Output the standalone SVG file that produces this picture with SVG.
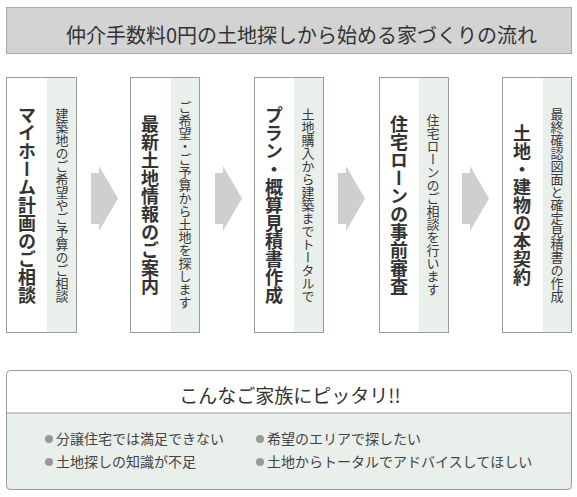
<svg xmlns="http://www.w3.org/2000/svg" width="577" height="497" viewBox="0 0 577 497">
<style>
text{font-family:"Noto Sans CJK JP","Noto Sans CJK SC",sans-serif;fill:#333}
.box{fill:#fff;stroke:#9a9a9a;stroke-width:1}
.strip{fill:#e9efeb}
.main{font-size:18px;font-weight:bold;writing-mode:vertical-rl;text-anchor:middle}
.sub{font-size:13px;writing-mode:vertical-rl;text-anchor:middle;fill:#3a3a3a}
.arrow{fill:#cfcfcf}
.item{font-size:14px;fill:#444}
.dot{fill:#999}
</style>
<rect width="577" height="497" fill="#fff"/>
<g id="title">
<rect x="6.5" y="7.5" width="565" height="46" fill="#d3d3d3" stroke="#a8a8a8"/>
<text x="66" y="43" font-size="20" fill="#333">仲介手数料0円の土地探しから始める家づくりの流れ</text>
</g>
<g id="step1">
<rect class="box" x="6.5" y="77.5" width="70" height="255"/>
<rect class="strip" x="47" y="78" width="29" height="254"/>
<text class="main" x="27" y="205">マイホーム計画のご相談</text>
<text class="sub" x="62" y="205">建築地のご希望やご予算のご相談</text>
</g>
<g id="step2">
<rect class="box" x="130.5" y="77.5" width="69" height="255"/>
<rect class="strip" x="171" y="78" width="28" height="254"/>
<text class="main" x="150" y="205">最新土地情報のご案内</text>
<text class="sub" x="185" y="205">ご希望・ご予算から土地を探します</text>
</g>
<g id="step3">
<rect class="box" x="254.5" y="77.5" width="69" height="255"/>
<rect class="strip" x="294" y="78" width="29" height="254"/>
<text class="main" x="274" y="205">プラン・概算見積書作成</text>
<text class="sub" x="308" y="205">土地購入から建築までトータルで</text>
</g>
<g id="step4">
<rect class="box" x="379.5" y="77.5" width="69" height="255"/>
<rect class="strip" x="419" y="78" width="29" height="254"/>
<text class="main" x="399" y="205">住宅ローンの事前審査</text>
<text class="sub" x="433" y="205">住宅ローンのご相談を行います</text>
</g>
<g id="step5">
<rect class="box" x="502.5" y="77.5" width="69" height="255"/>
<rect class="strip" x="543" y="78" width="28" height="254"/>
<text class="main" x="522" y="205">土地・建物の本契約</text>
<text class="sub" x="557" y="205">最終確認図面と確定見積書の作成</text>
</g>
<g id="connectors">
<polygon class="arrow" points="91,173 99,173 99,166 118,198.5 99,231 99,224 91,224"/>
<polygon class="arrow" points="215,173 223,173 223,166 242,198.5 223,231 223,224 215,224"/>
<polygon class="arrow" points="338,173 346,173 346,166 365,198.5 346,231 346,224 338,224"/>
<polygon class="arrow" points="462,173 470,173 470,166 489,198.5 470,231 470,224 462,224"/>
</g>
<g id="suitable">
<path d="M6.5,413 V374.5 a4,4 0 0 1 4,-4 H567.5 a4,4 0 0 1 4,4 V413 Z" fill="#fff"/>
<path d="M6.5,413 V485.5 a4,4 0 0 0 4,4 H567.5 a4,4 0 0 0 4,-4 V413 Z" fill="#e9efeb"/>
<rect x="6.5" y="370.5" width="565" height="119" rx="4" fill="none" stroke="#9a9a9a"/>
<line x1="6.5" y1="413" x2="571.5" y2="413" stroke="#9a9a9a"/>
<text x="290" y="403" font-size="19" text-anchor="middle">こんなご家族にピッタリ!!</text>
<circle class="dot" cx="49" cy="439" r="4"/>
<text class="item" x="56" y="444">分譲住宅では満足できない</text>
<circle class="dot" cx="49" cy="462" r="4"/>
<text class="item" x="56" y="467">土地探しの知識が不足</text>
<circle class="dot" cx="260" cy="439" r="4"/>
<text class="item" x="267" y="444">希望のエリアで探したい</text>
<circle class="dot" cx="260" cy="462" r="4"/>
<text class="item" x="267" y="467">土地からトータルでアドバイスしてほしい</text>
</g>
</svg>
